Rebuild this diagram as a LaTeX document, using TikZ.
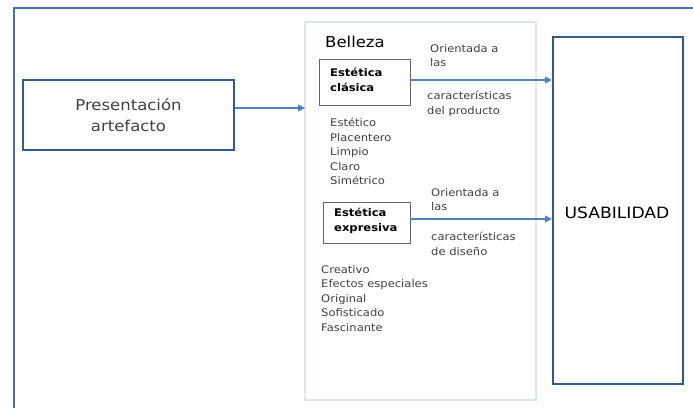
\documentclass[tikz,border=0pt]{standalone}
\usepackage{fontspec}
\setmainfont{DejaVu Sans}[FakeStretch=1.1]
\usetikzlibrary{arrows.meta}
\definecolor{frameblue}{HTML}{4A6FA0}
\definecolor{boxblue}{HTML}{345A8C}
\definecolor{arrowblue}{HTML}{4F81BD}
\definecolor{lightframe}{HTML}{DCE6F2}
\definecolor{txtgray}{HTML}{404040}
\tikzset{
  bigbox/.style={draw=boxblue, line width=2.2pt, inner sep=0pt},
  subbox/.style={draw=gray!80!black, line width=0.8pt, inner sep=0pt},
  conn/.style={draw=arrowblue, line width=1.1pt, -{Triangle[length=7pt,width=7pt]}},
  small/.style={font=\fontsize{10.5}{14.5}\selectfont, text=txtgray, align=left, inner sep=0pt},
  boldlab/.style={font=\fontsize{10.5}{15}\selectfont\bfseries, text=black, align=left, inner sep=0pt},
}
\begin{document}
\begin{tikzpicture}[x=1pt,y=-1pt]
\useasboundingbox (0,0) rectangle (693,407);
% outer frame
\draw[frameblue, line width=1.8pt] (14,410) -- (14,8) -- (696,8);
% Belleza container
\draw[lightframe, line width=1.8pt] (305,22) rectangle (536,400);
\node[anchor=base west, inner sep=0pt, font=\fontsize{15}{18}\selectfont, text=black] (bel) at (325,47) {Belleza};
% Presentacion box
\node[bigbox, minimum width=211pt, minimum height=70pt, align=center, font=\fontsize{15}{21}\selectfont, text=txtgray] (pres) at (128.5,115) {Presentación\\artefacto};
% USABILIDAD box
\node[bigbox, minimum width=130pt, minimum height=347pt] (usa) at (618,210.5) {};
\node[font=\fontsize{15.6}{20}\selectfont, text=black, inner sep=0pt] (usat) at (617,213) {USABILIDAD};
% sub boxes
\node[subbox, minimum width=91pt, minimum height=46pt] (clas) at (364.5,82) {};
\node[boldlab, anchor=west] (clast) at (330,80) {Estética\\clásica};
\node[subbox, minimum width=87pt, minimum height=41pt] (expr) at (366.5,222.5) {};
\node[boldlab, anchor=west] (exprt) at (334,221) {Estética\\expresiva};
% arrows
\coordinate (belin) at (305,108);
\draw[conn] (pres.east |- belin) -- (belin);
\coordinate (u1) at (usa.west |- 0,80);
\coordinate (u2) at (usa.west |- 0,219);
\draw[conn] (clas.east |- u1) -- (u1);
\draw[conn] (expr.east |- u2) -- (u2);
% labels
\node[small, anchor=north west] (o1) at (430,44) {Orientada a\\las};
\node[small, anchor=north west] (c1) at (427,91) {características\\del producto};
\node[small, anchor=north west] (o2) at (431,188) {Orientada a\\las};
\node[small, anchor=north west] (c2) at (431,232) {características\\de diseño};
% lists
\node[small, anchor=north west] (l1) at (330,118) {Estético\\Placentero\\Limpio\\Claro\\Simétrico};
\node[small, anchor=north west] (l2) at (321,265) {Creativo\\Efectos especiales\\Original\\Sofisticado\\Fascinante};
\end{tikzpicture}
\end{document}
